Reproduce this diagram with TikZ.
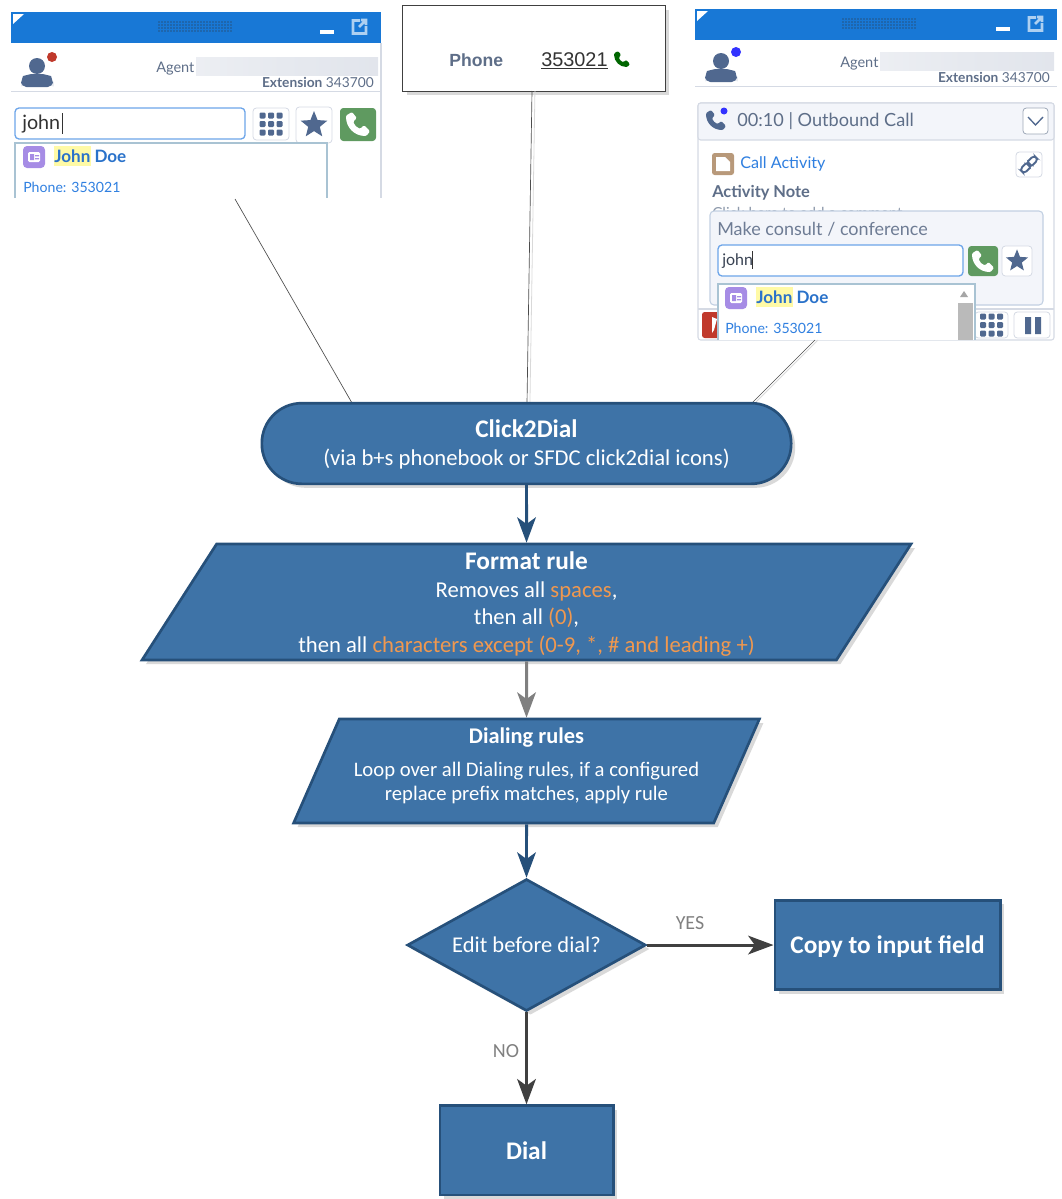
\documentclass[tikz,border=0pt]{standalone}
\usepackage{fontspec}
\setmainfont{Carlito}
\newfontfamily\uifont{Lato}
\newfontfamily\crmfont{Liberation Sans}
\usetikzlibrary{arrows.meta,shadows,shapes.geometric}

\definecolor{flowfill}{HTML}{3E73A7}
\definecolor{flowline}{HTML}{26507A}
\definecolor{flowshade}{HTML}{D9D9D9}
\definecolor{hotword}{HTML}{F0984F}
\definecolor{barblue}{HTML}{1878D6}
\definecolor{slate}{HTML}{50688F}
\definecolor{slatetext}{HTML}{5E6E88}
\definecolor{linkblue}{HTML}{2F7FE0}
\definecolor{softline}{HTML}{D5DAE4}
\definecolor{softfill}{HTML}{F3F5FA}
\definecolor{callgreen}{HTML}{5F9A60}
\definecolor{listline}{HTML}{A9C3D3}
\definecolor{consultline}{HTML}{C2D0E2}
\definecolor{hangup}{HTML}{C0392B}

\tikzset{
  flownode/.style={draw=flowline,line width=2pt,fill=flowfill,text=white,align=center,
    font=\fontsize{17}{20.6}\selectfont,inner sep=0pt,
    drop shadow={shadow xshift=3pt,shadow yshift=-3pt,fill=flowshade,opacity=1}},
  slanted/.style={flownode,trapezium,trapezium stretches=true,trapezium left angle=#1,
    trapezium right angle=180-#1},
  uitext/.style={inner sep=0pt,anchor=west,yshift=-.75pt,font=\uifont\fontsize{#1}{#1}\selectfont},
  uibutton/.style={draw=softline,fill=white,rounded corners=2.5pt,line width=.6pt},
  greenbutton/.style={fill=callgreen,rounded corners=2.5pt},
  handset/.pic={
    \fill[rounded corners=.9] (-10,-7) .. controls (-10,3) and (-3,10) .. (7,10)
      -- (10,6) -- (5,1) -- (2,4) .. controls (-1,3) and (-3,1) .. (-4,-2)
      -- (-1,-5) -- (-5,-10) -- cycle;
  }
}

% title bar and agent line of one softphone window
\newcommand{\softbar}[6]{
  \begin{scope}[shift={(#2,#3)}]
    \fill[barblue] (0,0) rectangle (#4,31);
    \fill[white] (2,2) -- (13,2) -- (2,12) -- cycle;
    \foreach \col in {0,...,24}
      \foreach \row in {0,...,3}
        \fill[flowline!45!barblue] (147+3*\col,9+3*\row) rectangle ++(1.6,1.6);
    \fill[white] (#4-61,18) rectangle ++(14,3.5);
    \draw[barblue!35!white,line width=2pt] (#4-21,8.5) -- (#4-28,8.5) -- (#4-28,21.5)
      -- (#4-15,21.5) -- (#4-15,14) (#4-22,15) -- (#4-15,8) (#4-20,8) -- (#4-15,8) -- (#4-15,13);
    \begin{scope}[yshift=#6]
    \fill[slate] (26,54) circle (8);
    \fill[slate,rounded corners=4] (10,75) -- (10,69) .. controls (12,64) and (20,62) .. (26,62)
      .. controls (32,62) and (40,64) .. (42,69) -- (42,75) -- cycle;
    \fill[#5] (41,45) circle (5);
    \node[uitext=10.9,text=slatetext] (#1agent) at (145,56) {Agent};
    \shade[left color=softline!45!white,right color=softline!70!white,middle color=softline!60!white]
      (185,45) rectangle (#4-3,63);
    \node[uitext=10.3,text=slatetext,anchor=east] (#1extension) at (#4-7,69) {\textbf{Extension} 343700};
    \draw[softline,line width=.9pt] (0,79.5) -- (#4,79.5);
    \end{scope}
  \end{scope}
}
% one hit of the search list
\newcommand{\searchhit}[3]{
  \begin{scope}[shift={(#2,#3)}]
    \fill[yellow!35!white] (31,0) rectangle ++(37,20);
    \fill[violet!45!blue!45!white,rounded corners=3] (0,0) rectangle ++(22,22);
    \fill[white,rounded corners=1] (5,6) rectangle ++(12,10);
    \fill[violet!45!blue!45!white] (7,8) rectangle ++(4,6) (12,9) rectangle ++(4,1.4) (12,12) rectangle ++(4,1.4);
    \node[uitext=11,text=linkblue!90!black,font=\uifont\bfseries\fontsize{12.8}{12.8}\selectfont] (#1name) at (31,9.2) {John Doe};
    \node[uitext=10.6,text=linkblue] (#1phone) at (0,40.2) {Phone: 353021};
  \end{scope}
}
\newcommand{\starbutton}[4]{
  \draw[uibutton] (#2,#3) rectangle ++(#4,#4);
  \node[star,star points=5,star point ratio=2.3,fill=slate,minimum size=21pt*#4/36,inner sep=0pt]
    (#1) at (#2+#4/2,#3+#4/2) {};
}
\newcommand{\keybutton}[5]{
  \draw[uibutton] (#2,#3) rectangle ++(#4,#5);
  \foreach \col in {-1,0,1}
    \foreach \row in {-1,0,1}
      \fill[slate,rounded corners=.8] (#2+#4/2+8.5*\col-3,#3+#5/2+8.5*\row-3) rectangle ++(6,6);
}

\begin{document}
\begin{tikzpicture}[x=.75pt,y=-.75pt,>={Stealth[length=19pt,width=14pt,inset=5pt]},
    node distance=100pt]
  \useasboundingbox (0,0) rectangle (1061,1199);

  % left window
  \softbar{left}{11}{12}{370}{hangup}{0pt}
  \draw[softline,line width=.8pt] (381,43) -- (381,198);
  \draw[draw=linkblue!70!white,fill=white,rounded corners=3,line width=1pt] (15,108) rectangle (245,139);
  \node[uitext=14.8,text=black!80] (leftinput) at (22,123) {john};
  \draw[black!80,line width=.6pt] (62,113) -- (62,134);
  \keybutton{leftkeys}{253}{108}{36}{32}
  \starbutton{leftstar}{296}{107}{36}
  \fill[greenbutton] (340,108) rectangle (376,141);
  \pic[white,scale=1.2] at (358,124) {handset};
  \draw[listline,line width=.8pt] (15,198) -- (15,143) -- (327,143) -- (327,198);
  \searchhit{left}{23}{146}

  % phone field in the CRM
  \node[draw=black!75,fill=white,line width=.7pt,minimum width=197pt,minimum height=64pt,inner sep=0pt,
    drop shadow={shadow xshift=3pt,shadow yshift=-3pt,fill=flowshade,opacity=1}] (crmbox) at (534,48.5) {};
  \node[inner sep=0pt,anchor=west,text=slatetext,font=\crmfont\bfseries\fontsize{13.2}{13.2}\selectfont] (crmlabel) at (449,60) {Phone};
  \node[inner sep=0pt,anchor=west,text=black!80,font=\crmfont\fontsize{14.9}{14.9}\selectfont] (crmnumber) at (541,61) {\underline{353021}};
  \pic[green!40!black,scale=.8] at (622,59) {handset};

  % right window
  \softbar{right}{695}{9}{362}{blue!80!white}{1.5pt}
  \draw[softline,fill=white,rounded corners=2,line width=.8pt] (698,103) rectangle (1054,340);
  \draw[softline,fill=softfill,line width=.8pt,rounded corners=2] (698,103) rectangle (1054,140);
  \pic[slate] at (716,120) {handset};
  \fill[blue!80!white] (724,111) circle (3.5);
  \node[uitext=13.6,text=slatetext] (rightcall) at (737,120) {00:10 | Outbound Call};
  \draw[uibutton,draw=slatetext!60!white] (1023,108) rectangle (1048,134);
  \draw[slate,line width=1pt] (1028,117) -- (1035.5,125) -- (1043,117);
  \fill[brown!60!gray!80!white,rounded corners=2] (712,153) rectangle (734,175);
  \fill[white] (716,157) -- (725,157) -- (730,162) -- (730,171) -- (716,171) -- cycle;
  \node[uitext=12.1,text=linkblue] (rightactivity) at (740,163) {Call Activity};
  \draw[uibutton] (1016,152) rectangle (1042,177);
  \draw[slate,line width=1.4pt,rounded corners=2.5,rotate around={45:(1029,164.5)}]
    (1019,161.5) rectangle ++(11,6) (1028,161.5) rectangle ++(11,6);
  \node[uitext=11,text=slatetext,font=\uifont\bfseries\fontsize{12.3}{12.3}\selectfont] (rightnote) at (712,192) {Activity Note};
  \begin{scope}
    \clip (700,203) rectangle (1050,211);
    \node[uitext=11.4,text=slatetext!70!white] (righthint) at (712,212) {Click here to add a comment};
  \end{scope}
  \draw[consultline,fill=softfill,rounded corners=3,line width=.8pt] (710,211) rectangle (1043,305);
  \node[uitext=13.5,text=slatetext!90!white] (rightconsult) at (717,228) {Make consult / conference};
  \draw[draw=linkblue!70!white,fill=white,rounded corners=3,line width=1pt] (718,245) rectangle (963,276);
  \node[uitext=12,text=slatetext!60!black] (rightinput) at (722,260) {john};
  \draw[black!80,line width=.6pt] (752,251) -- (752,269);
  \fill[greenbutton] (968,246) rectangle (998,276);
  \pic[white,scale=1.1] at (983,261) {handset};
  \starbutton{rightstar}{1002}{246}{30}
  \draw[softline,line width=.8pt] (698,309) -- (1054,309);
  \fill[hangup,rounded corners=2] (702,312) rectangle (722,338);
  \fill[white] (712,317) -- (717,319) -- (714,330) -- (712,333) -- cycle;
  \keybutton{rightkeys}{975}{312}{33}{26}
  \draw[uibutton] (1014,312) rectangle (1050,338);
  \fill[slate] (1025,317) rectangle ++(6,17) (1035,317) rectangle ++(6,17);
  \fill[white] (718,284) rectangle (975,340);
  \draw[listline,line width=.8pt] (718,340) -- (718,284) -- (975,284) -- (975,340);
  \fill[black!35] (964,291) -- (968,297) -- (960,297) -- cycle;
  \fill[black!27] (958,303) rectangle (973,340);
  \searchhit{right}{725}{287}

  % the thin lines from the screens
  \coordinate (leftfoot) at (235,199);
  \coordinate (lefthead) at (352,403);
  \coordinate (crmfoot) at (532,91);
  \coordinate (crmhead) at (527,403);
  \coordinate (rightfoot) at (815,340);
  \coordinate (righthead) at (752,403);
  \path[flowshade,line width=.6pt]
  ([xshift=2.2pt]crmfoot) edge ([xshift=2.2pt]crmhead)
  ([xshift=2.2pt]rightfoot) edge ([xshift=2.2pt]righthead);
  \path[black!70,line width=.5pt]
  (leftfoot) edge (lefthead)
  (crmfoot) edge (crmhead)
  (rightfoot) edge (righthead);

  % flow
  \node[flownode,minimum width=397pt,minimum height=60.5pt,rounded corners=30pt] (click) at (526.5,443.5)
    {\rule{0pt}{14.6pt}\textbf{\fontsize{19}{21.5}\selectfont Click2Dial}\\(via b+s phonebook or SFDC click2dial icons)};
  \node[slanted=63,minimum width=578pt,minimum height=87pt,below of=click,node distance=118.9pt] (format)
    {\rule{0pt}{16.1pt}\textbf{\fontsize{19}{20.6}\selectfont Format rule}\\Removes all \textcolor{hotword}{spaces},\\then all \textcolor{hotword}{(0)},\\
     then all \textcolor{hotword}{characters except (0-9, *, \# and leading +)}};
  \node[slanted=64,minimum width=350pt,minimum height=78pt,below of=format,node distance=126.75pt,
    font=\fontsize{15.5}{18}\selectfont] (rules)
    {\textbf{\fontsize{16.8}{18}\selectfont Dialing rules}\\[7pt]Loop over all Dialing rules, if a configured\\replace prefix matches, apply rule\rule[-10pt]{0pt}{0pt}};
  \node[flownode,diamond,aspect=1.81,minimum width=179pt,minimum height=99pt,below of=rules,node distance=130.5pt,
    font=\fontsize{16.9}{18}\selectfont] (edit) {Edit before dial?};
  \node[flownode,minimum width=169pt,minimum height=67pt,right of=edit,node distance=270.75pt,
    font=\bfseries\fontsize{19}{20}\selectfont] (copy) {\rule{0pt}{16pt}Copy to input field};
  \node[flownode,minimum width=130pt,minimum height=67pt,below of=edit,node distance=154pt,
    font=\bfseries\fontsize{19}{20}\selectfont] (dial) {Dial};

  \path[->,line width=2.2pt]
  (click) edge[flowline] (format)
  (format) edge[black!50] (rules)
  (rules) edge[flowline] (edit)
  (edit) edge[black!75] (copy)
  (edit) edge[black!75] (dial);

  \node[inner sep=0pt,text=black!50,font=\fontsize{15}{18}\selectfont] (yes) at (690,923) {YES};
  \node[inner sep=0pt,text=black!50,font=\fontsize{15}{18}\selectfont] (no) at (506,1051) {NO};
\end{tikzpicture}
\end{document}
